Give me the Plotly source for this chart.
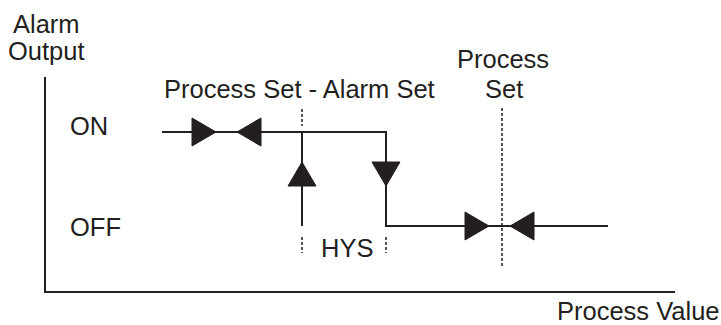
"""Alarm output vs process value: hysteresis diagram (Plotly)."""

import plotly.graph_objects as go

INK = '#231f20'
FONT = 'Liberation Sans, Arial, sans-serif'

# Diagram coordinates (x grows right, y grows down)
FRAME_X = [45, 45, 675]
FRAME_Y = [77, 292, 292]

LOOP_X = [162, 386, 386, 608, None, 302, 302]
LOOP_Y = [132, 132, 226, 226, None, 226, 132]

GUIDE_X = [302, 302, None, 302, 302, None, 386, 386, None, 502, 502]
GUIDE_Y = [109, 126, None, 237, 253, None, 237, 253, None, 108, 268]

ARROW_X = [204, 249, 302, 386, 477, 522]
ARROW_Y = [132, 132, 174, 174, 226, 226]
ARROW_DIR = ['right', 'left', 'up', 'down', 'right', 'left']

LABEL_TEXT = ['Alarm', 'Output', 'Process Set - Alarm Set', 'Process', 'Set',
              'ON', 'OFF', 'HYS', 'Process Value']
LABEL_X = [46, 46, 299, 503, 504, 68, 68, 347, 638]
LABEL_Y = [24, 51, 89, 59, 89, 126, 227, 248, 311]
LABEL_ANCHOR = ['center', 'center', 'center', 'center', 'center',
                'left', 'left', 'center', 'center']

ARROW_LEN = 24   # along the pointing direction
ARROW_BASE = 28  # across it


def _triangle(x, y, direction):
    h, b = ARROW_LEN / 2, ARROW_BASE / 2
    if direction == 'right':
        return [x - h, x + h, x - h, x - h], [y - b, y, y + b, y - b]
    if direction == 'left':
        return [x + h, x - h, x + h, x + h], [y - b, y, y + b, y - b]
    if direction == 'up':
        return [x - b, x, x + b, x - b], [y + h, y - h, y + h, y + h]
    return [x - b, x, x + b, x - b], [y - h, y + h, y - h, y - h]


tri_x, tri_y = [], []
for ax, ay, ad in zip(ARROW_X, ARROW_Y, ARROW_DIR):
    px, py = _triangle(ax, ay, ad)
    tri_x += px + [None]
    tri_y += py + [None]

fig = go.Figure()
fig.add_trace(go.Scatter(x=FRAME_X, y=FRAME_Y, mode='lines',
                         line=dict(color=INK, width=2), hoverinfo='skip'))
fig.add_trace(go.Scatter(x=LOOP_X, y=LOOP_Y, mode='lines',
                         line=dict(color=INK, width=2), hoverinfo='skip'))
fig.add_trace(go.Scatter(x=GUIDE_X, y=GUIDE_Y, mode='lines',
                         line=dict(color=INK, width=1.5, dash='3px,2px'), hoverinfo='skip'))
fig.add_trace(go.Scatter(x=tri_x, y=tri_y, mode='lines', fill='toself',
                         fillcolor=INK, line=dict(color=INK, width=1), hoverinfo='skip'))

for text, lx, ly, anchor in zip(LABEL_TEXT, LABEL_X, LABEL_Y, LABEL_ANCHOR):
    fig.add_annotation(x=lx, y=ly, text=text, showarrow=False,
                       xanchor=anchor, yanchor='middle',
                       font=dict(family=FONT, size=25.5, color=INK))

fig.update_layout(
    width=721, height=325,
    margin=dict(l=0, r=0, t=0, b=0),
    paper_bgcolor='white', plot_bgcolor='white',
    showlegend=False,
    xaxis=dict(range=[0, 721], visible=False, fixedrange=True),
    yaxis=dict(range=[325, 0], visible=False, fixedrange=True),
)

fig.write_html("out.html", config={'displayModeBar': False},
               post_script="document.body.style.margin='0';")
